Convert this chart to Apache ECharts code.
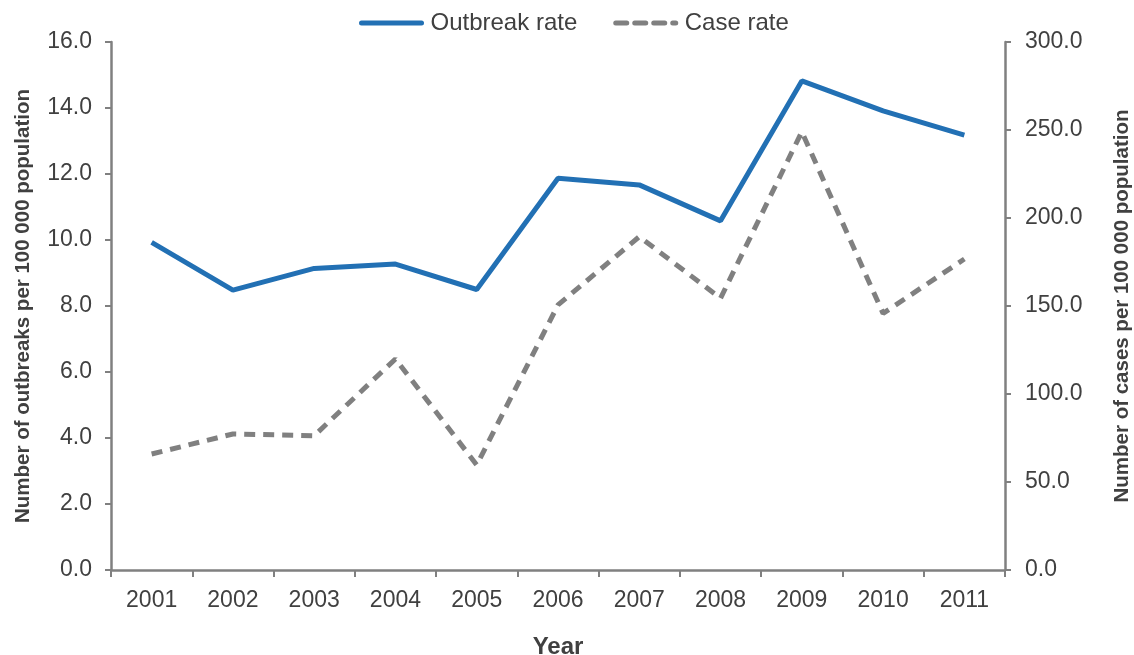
<!DOCTYPE html>
<html><head><meta charset="utf-8">
<script src="https://cdn.jsdelivr.net/npm/echarts@6/dist/echarts.min.js"></script>
<style>html,body{margin:0;padding:0;background:#fff;overflow:hidden}#c{width:1134px;height:655px}</style>
</head><body><div id="c"></div>
<script>
const years = ['2001','2002','2003','2004','2005','2006','2007','2008','2009','2010','2011'];
const outbreakRate = [9.93, 8.48, 9.14, 9.27, 8.5, 11.87, 11.67, 10.58, 14.82, 13.91, 13.18];
const caseRate = [65.9, 77.3, 76.3, 119.9, 59.7, 150.6, 189.4, 154.4, 249.0, 145.8, 176.7];
const seriesNames = ['Outbreak rate', 'Case rate'];
const leftName = 'Number of outbreaks per 100 000 population';
const rightName = 'Number of cases per 100 000 population';
const xName = 'Year';

const axisGray = '#808080';
const textCol = '#404040';
const font = 'Liberation Sans, Arial, sans-serif';
const chart = echarts.init(document.getElementById('c'));
chart.setOption({
  animation: false,
  textStyle: {fontFamily: font},
  legend: {
    top: 6, left: 354, itemGap: 36, itemWidth: 60, itemHeight: 14,
    textStyle: {fontSize: 24, color: textCol, fontFamily: font, padding: [0, 0, 0, 4]},
    itemStyle: {opacity: 0},
    lineStyle: {width: 5, cap: 'round'},
    data: seriesNames
  },
  grid: {left: 111, right: 129, top: 42, bottom: 85, outerBoundsMode: 'none', containLabel: false},
  xAxis: {
    type: 'category', data: years, boundaryGap: true,
    name: xName, nameLocation: 'middle', nameGap: 65,
    nameTextStyle: {fontSize: 24, fontWeight: 'bold', color: textCol, fontFamily: font},
    axisLine: {lineStyle: {color: axisGray, width: 2.5}},
    axisTick: {show: true, length: 7, lineStyle: {color: axisGray, width: 2}},
    axisLabel: {fontSize: 23, color: textCol, margin: 19, fontFamily: font}
  },
  yAxis: [{
    type: 'value', min: 0, max: 16, interval: 2, position: 'left',
    name: leftName, nameLocation: 'middle', nameGap: 77, nameRotate: 90,
    nameTextStyle: {fontSize: 20.5, fontWeight: 'bold', color: textCol, fontFamily: font},
    axisLine: {show: true, lineStyle: {color: axisGray, width: 2.5}},
    axisTick: {show: true, length: 6, lineStyle: {color: axisGray, width: 2}},
    splitLine: {show: false},
    axisLabel: {fontSize: 23, color: textCol, margin: 19, formatter: v => v.toFixed(1), fontFamily: font}
  }, {
    type: 'value', min: 0, max: 300, interval: 50, position: 'right',
    name: rightName, nameLocation: 'middle', nameGap: 107, nameRotate: 90,
    nameTextStyle: {fontSize: 20.5, fontWeight: 'bold', color: textCol, fontFamily: font},
    axisLine: {show: true, lineStyle: {color: axisGray, width: 2.5}},
    axisTick: {show: true, length: 6, lineStyle: {color: axisGray, width: 2}},
    splitLine: {show: false},
    axisLabel: {fontSize: 23, color: textCol, margin: 20, formatter: v => v.toFixed(1), fontFamily: font}
  }],
  series: [{
    name: seriesNames[0], type: 'line', yAxisIndex: 0, data: outbreakRate,
    symbol: 'none', lineStyle: {color: '#2270B4', width: 5}, itemStyle: {color: '#2270B4'}
  }, {
    name: seriesNames[1], type: 'line', yAxisIndex: 1, data: caseRate,
    symbol: 'none', lineStyle: {color: '#808080', width: 5, type: [11, 8]}, itemStyle: {color: '#808080'}
  }]
});
</script></body></html>
